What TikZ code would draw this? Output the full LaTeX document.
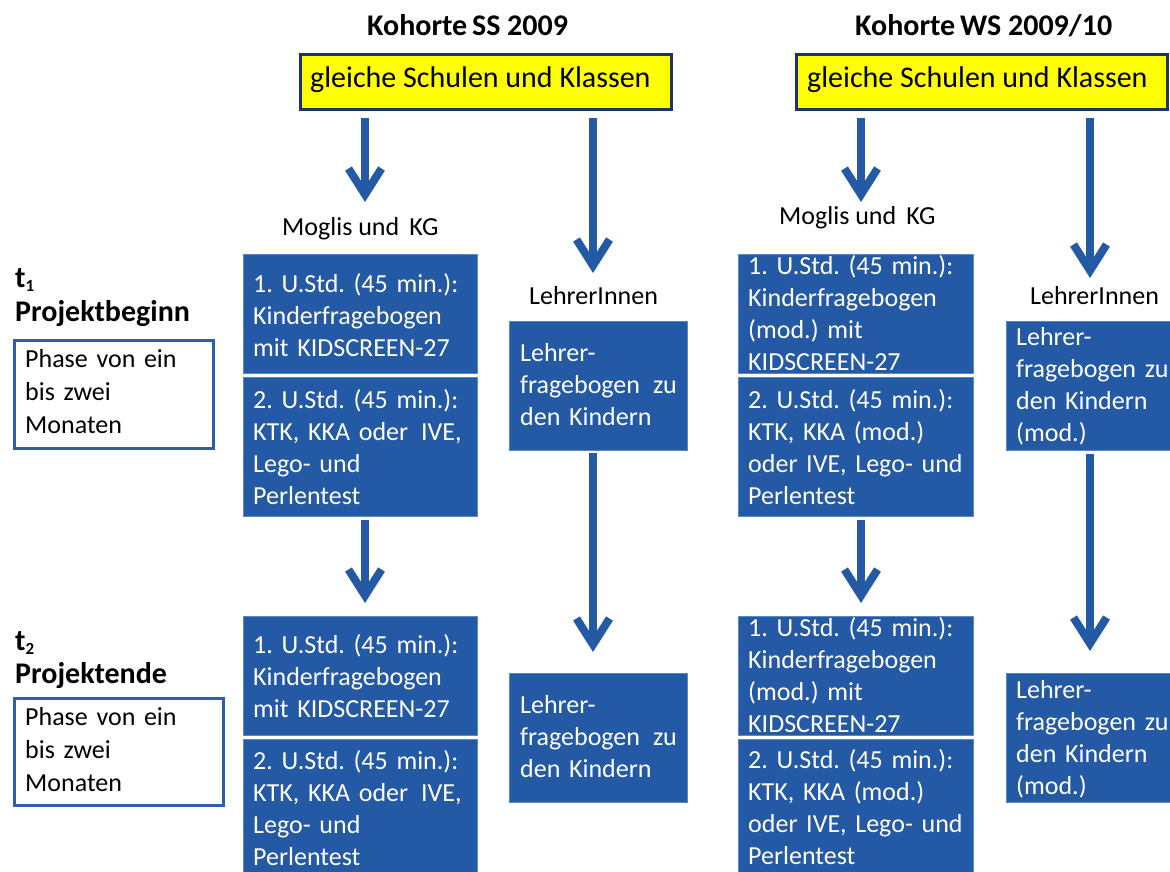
\documentclass[tikz,border=0pt]{standalone}
\usepackage{fontspec}
\setmainfont{Carlito}
\usetikzlibrary{arrows.meta}
\frenchspacing

\definecolor{boxblue}{RGB}{36,89,165}
\definecolor{edgeblue}{RGB}{90,135,198}
\definecolor{navy}{RGB}{31,52,100}
\definecolor{phaseblue}{RGB}{46,94,168}
\definecolor{hiyellow}{RGB}{255,255,0}

\tikzset{
  bluebox/.style 2 args={fill=boxblue, draw=edgeblue, line width=0.8pt,
    anchor=north west, inner sep=0pt, minimum width=#1, minimum height=#2},
  boxtext/.style={anchor=base west, inner sep=0pt, text=white,
    font=\fontsize{26}{32}\selectfont\frenchspacing, text width=240pt, align=left},
  yellowbox/.style={fill=hiyellow, draw=navy, line width=3pt, anchor=north west,
    inner sep=0pt, minimum width=371pt, minimum height=55pt},
  phasebox/.style 2 args={draw=phaseblue, line width=3pt, fill=white,
    anchor=north west, inner sep=0pt, minimum width=#1, minimum height=#2},
  phasetext/.style={anchor=base west, inner sep=0pt, text=black,
    font=\fontsize{26}{33}\selectfont, text width=200pt, align=left},
  plain/.style={anchor=base west, inner sep=0pt, text=black,
    font=\fontsize{26}{32}\selectfont},
  heading/.style={anchor=base west, inner sep=0pt, text=black,
    font=\bfseries\fontsize{30}{36}\selectfont},
  flowarrow/.style={draw=boxblue, line width=8pt,
    -{Straight Barb[length=26pt, width=33pt]}},
}

\begin{document}
\begin{tikzpicture}[x=1pt, y=-1pt]
\useasboundingbox (0,0) rectangle (1170,872);
\clip (0,0) rectangle (1170,872);

% ---------- cohort headings ----------
\node[heading] (titleSS) at (367,36) {Kohorte\hspace{-2pt} SS 2009};
\node[heading] (titleWS) at (855,36) {Kohorte\hspace{-2pt} WS 2009/10};

\node[yellowbox] (ybSS) at (298.5,53.5) {};
\node[plain, font=\fontsize{30}{36}\selectfont] (ytSS) at (310,88) {gleiche Schulen und Klassen};
\node[yellowbox] (ybWS) at (794.5,53.5) {};
\node[plain, font=\fontsize{30}{36}\selectfont] (ytWS) at (807,88) {gleiche Schulen und Klassen};

% ---------- time points on the left ----------
\node[heading] (tone) at (15,287) {t\raisebox{-4pt}{\fontsize{17}{17}\selectfont 1}};
\node[heading] (begin) at (15,321) {Projektbeginn};
\node[phasebox={199pt}{108pt}] (phaseone) at (12.5,338.5) {};
\node[phasetext] (phaseonetext) at (25,367) {Phase von ein\\bis zwei\\Monaten};

\node[heading] (ttwo) at (15,650) {t\raisebox{-4pt}{\fontsize{17}{17}\selectfont 2}};
\node[heading] (ende) at (15,683) {Projektende};
\node[phasebox={209pt}{107pt}] (phasetwo) at (12.5,696.5) {};
\node[phasetext] (phasetwotext) at (25,725) {Phase von ein\\bis zwei\\Monaten};

% ---------- cohort SS 2009 ----------
\node[plain] (kidsSS) at (282,235) {Moglis und\, KG};
\node[plain] (teachSS) at (529,304) {LehrerInnen};

\node[bluebox={234pt}{119pt}] (ssAone) at (243,254) {};
\node[boxtext] at ([shift={(10,38)}]ssAone.north west) (ssAonetext)
  {1. U.Std. (45 min.):\\Kinderfragebogen\\mit KIDSCREEN-27};
\node[bluebox={234pt}{139pt}] (ssAtwo) at (243,377) {};
\node[boxtext] at ([shift={(10,31)}]ssAtwo.north west) (ssAtwotext)
  {2. U.Std. (45 min.):\\KTK, KKA oder\, IVE,\\Lego- und\\Perlentest};
\node[bluebox={234pt}{119pt}] (ssBone) at (243,616) {};
\node[boxtext] at ([shift={(10,37)}]ssBone.north west) (ssBonetext)
  {1. U.Std. (45 min.):\\Kinderfragebogen\\mit KIDSCREEN-27};
\node[bluebox={234pt}{150pt}] (ssBtwo) at (243,739) {};
\node[boxtext] at ([shift={(10,30)}]ssBtwo.north west) (ssBtwotext)
  {2. U.Std. (45 min.):\\KTK, KKA oder\, IVE,\\Lego- und\\Perlentest};

\node[bluebox={178pt}{129pt}] (ssTone) at (509,321) {};
\node[boxtext] at ([shift={(11,40)}]ssTone.north west) (ssTonetext)
  {Lehrer-\\fragebogen\, zu\\den Kindern};
\node[bluebox={178pt}{129pt}] (ssTtwo) at (509,673) {};
\node[boxtext] at ([shift={(11,40)}]ssTtwo.north west) (ssTtwotext)
  {Lehrer-\\fragebogen\, zu\\den Kindern};

% ---------- cohort WS 2009/10 ----------
\node[plain] (kidsWS) at (779,224) {Moglis und\, KG};
\node[plain] (teachWS) at (1030,304) {LehrerInnen};

\node[bluebox={235pt}{119pt}] (wsAone) at (738,254) {};
\node[boxtext] at ([shift={(10,20)}]wsAone.north west) (wsAonetext)
  {1. U.Std. (45 min.):\\Kinderfragebogen\\(mod.) mit\\KIDSCREEN-27};
\node[bluebox={235pt}{139pt}] (wsAtwo) at (738,377) {};
\node[boxtext] at ([shift={(10,31)}]wsAtwo.north west) (wsAtwotext)
  {2. U.Std. (45 min.):\\KTK, KKA (mod.)\\oder IVE, Lego- und\\Perlentest};
\node[bluebox={235pt}{119pt}] (wsBone) at (738,616) {};
\node[boxtext] at ([shift={(10,20)}]wsBone.north west) (wsBonetext)
  {1. U.Std. (45 min.):\\Kinderfragebogen\\(mod.) mit\\KIDSCREEN-27};
\node[bluebox={235pt}{150pt}] (wsBtwo) at (738,739) {};
\node[boxtext] at ([shift={(10,29)}]wsBtwo.north west) (wsBtwotext)
  {2. U.Std. (45 min.):\\KTK, KKA (mod.)\\oder IVE, Lego- und\\Perlentest};

\node[bluebox={175pt}{129pt}] (wsTone) at (1006,321) {};
\node[boxtext] at ([shift={(10,24)}]wsTone.north west) (wsTonetext)
  {Lehrer-\\fragebogen zu\\den Kindern\\(mod.)};
\node[bluebox={175pt}{129pt}] (wsTtwo) at (1006,673) {};
\node[boxtext] at ([shift={(10,25)}]wsTtwo.north west) (wsTtwotext)
  {Lehrer-\\fragebogen zu\\den Kindern\\(mod.)};

% ---------- arrow end points ----------
\coordinate (ssKidsFrom) at (365,118);  \coordinate (ssKidsTo) at (365,202);
\coordinate (ssTeachFrom) at (593,118); \coordinate (ssTeachTo) at (593,273);
\coordinate (ssMidFrom) at (365,520);   \coordinate (ssMidTo) at (365,603);
\coordinate (ssTMidFrom) at (593,453);  \coordinate (ssTMidTo) at (593,652);
\coordinate (wsKidsFrom) at (861,118);  \coordinate (wsKidsTo) at (861,202);
\coordinate (wsTeachFrom) at (1090,118);\coordinate (wsTeachTo) at (1090,278);
\coordinate (wsMidFrom) at (861,520);   \coordinate (wsMidTo) at (861,603);
\coordinate (wsTMidFrom) at (1090,454); \coordinate (wsTMidTo) at (1090,651);

\draw[flowarrow] (ssKidsFrom) -- (ssKidsTo);
\draw[flowarrow] (ssTeachFrom) -- (ssTeachTo);
\draw[flowarrow] (ssMidFrom) -- (ssMidTo);
\draw[flowarrow] (ssTMidFrom) -- (ssTMidTo);
\draw[flowarrow] (wsKidsFrom) -- (wsKidsTo);
\draw[flowarrow] (wsTeachFrom) -- (wsTeachTo);
\draw[flowarrow] (wsMidFrom) -- (wsMidTo);
\draw[flowarrow] (wsTMidFrom) -- (wsTMidTo);
\end{tikzpicture}
\end{document}
